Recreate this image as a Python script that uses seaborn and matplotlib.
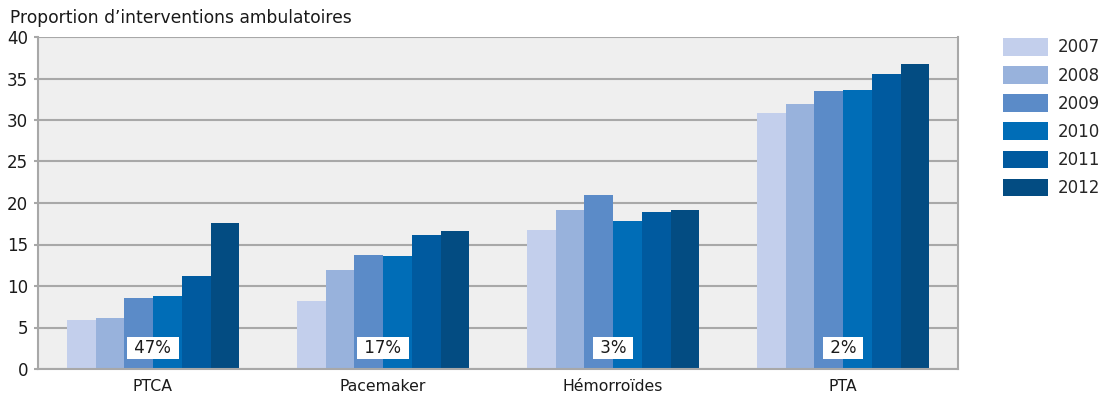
import matplotlib
matplotlib.use("Agg")
import matplotlib.pyplot as plt
import seaborn as sns
import pandas as pd
from matplotlib.patches import Patch

# Share of procedures performed as outpatient, by year
categories = ["PTCA", "Pacemaker", "Hémorroïdes", "PTA"]
years = ["2007", "2008", "2009", "2010", "2011", "2012"]
values = {
    "2007": [5.9, 8.2, 16.8, 30.9],
    "2008": [6.1, 11.9, 19.1, 31.9],
    "2009": [8.6, 13.7, 21.0, 33.5],
    "2010": [8.8, 13.6, 17.8, 33.6],
    "2011": [11.2, 16.2, 18.9, 35.6],
    "2012": [17.6, 16.6, 19.2, 36.7],
}
# Share of all procedures in each category
shares = ["47%", "17%", "3%", "2%"]

colors = ["#c3cfec", "#98b2dc", "#5b8bc8", "#006db7", "#005a9f", "#034c82"]

rows = []
for y in years:
    for c, v in zip(categories, values[y]):
        rows.append({"cat": c, "year": y, "val": v})
df = pd.DataFrame(rows)

sns.set_theme(style="white")
plt.rcParams["font.family"] = ["DejaVu Sans"]

fig = plt.figure(figsize=(11.01, 4.0), dpi=100)
ax = fig.add_axes([38 / 1101, 1 - 369 / 400, (958 - 38) / 1101, (369 - 37) / 400])

sns.barplot(data=df, x="cat", y="val", hue="year", order=categories,
            hue_order=years, palette=colors, saturation=1, width=0.75,
            linewidth=0, ax=ax, legend=False)

ax.set_facecolor("#efefef")
ax.set_ylim(0, 40)
ax.set_xlim(-0.5, 3.5)
ax.set_yticks(range(0, 41, 5))
ax.yaxis.grid(True, color="#a8a8a8", linewidth=1.5)
ax.set_axisbelow(True)
ax.set_xlabel("")
ax.set_ylabel("")

for side in ["left", "bottom", "right"]:
    ax.spines[side].set_visible(True)
    ax.spines[side].set_color("#a8a8a8")
    ax.spines[side].set_linewidth(1.5)
ax.spines["top"].set_visible(False)

ax.tick_params(axis="y", length=3, width=1.5, color="#a8a8a8",
               labelsize=12, labelcolor="#1a1a1a", pad=4, left=True)
ax.tick_params(axis="x", length=0, labelsize=11.3, labelcolor="#1a1a1a", pad=7)

for i, s in enumerate(shares):
    ax.text(i, 2.5, f" {s} ", ha="center", va="center", fontsize=12, color="#1a1a1a",
            bbox=dict(facecolor="white", edgecolor="none", pad=1.5), zorder=5)

fig.text(10 / 1101, 1 - 18 / 400, "Proportion d\u2019interventions ambulatoires",
         fontsize=12.3, color="#1a1a1a", va="center", ha="left")

handles = [Patch(facecolor=c, edgecolor="none", label=y) for c, y in zip(colors, years)]
fig.legend(handles=handles, loc="upper left", bbox_to_anchor=(1003 / 1101, 1 - 38 / 400),
           frameon=False, fontsize=12, handlelength=2.7, handleheight=1.26,
           labelspacing=0.58, handletextpad=0.6, borderaxespad=0, borderpad=0)

fig.savefig("out.png", dpi=100)
